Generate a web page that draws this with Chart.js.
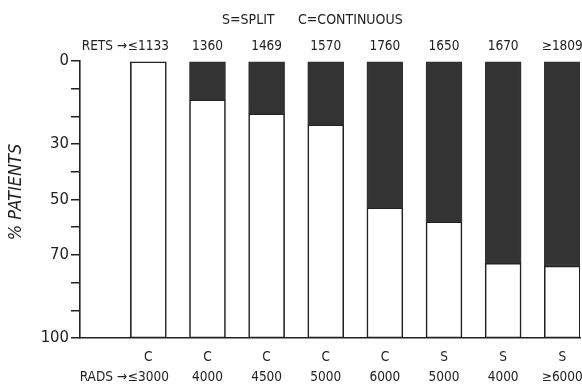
<!DOCTYPE html>
<html>
<head>
<meta charset="utf-8">
<script src="https://cdn.jsdelivr.net/npm/chart.js@4/dist/chart.umd.min.js"></script>
<style>
  html, body { margin: 0; padding: 0; background: #ffffff; }
  #wrap { width: 582px; height: 387px; position: relative; }
</style>
</head>
<body>
<div id="wrap"><canvas id="c"></canvas></div>
<script>
// ---- data ----
const schedules = ['C', 'C', 'C', 'C', 'C', 'S', 'S', 'S'];
const rads = ['≤3000', '4000', '4500', '5000', '6000', '5000', '4000', '≥6000'];
const rets = ['≤1133', '1360', '1469', '1570', '1760', '1650', '1670', '≥1809'];
const blackPct = [0, 14, 19, 23, 53, 58, 73, 74];   // dark (upper) part of each bar, % patients
const barPos = [1, 2, 3, 4, 5, 6, 7, 8];
const yTickLabels = [0, 30, 50, 70, 100];

const FONT = '"Liberation Sans Narrow", "DejaVu Sans Condensed", "Arial Narrow", sans-serif';
const INK = '#222222';
const DARK = '#333333';

const darkData = barPos.map((x, i) => ({ x: x, y: [0, blackPct[i]] }));
const whiteData = barPos.map((x, i) => ({ x: x, y: [blackPct[i], 100] }));

const annot = {
  id: 'annot',
  afterDraw(chart) {
    const ctx = chart.ctx;
    ctx.save();
    ctx.fillStyle = INK;
    ctx.textBaseline = 'middle';
    ctx.textAlign = 'left';
    ctx.font = '14px ' + FONT;
    ctx.fillText('S=SPLIT', 222, 20);
    ctx.fillText('C=CONTINUOUS', 298, 20);
    ctx.textAlign = 'right';
    ctx.font = '13.5px ' + FONT;
    ctx.fillText('RETS →', 127, 46);
    ctx.fillText('RADS →', 127, 377);
    // y-axis title
    ctx.translate(16, 192);
    ctx.rotate(-Math.PI / 2);
    ctx.textAlign = 'center';
    ctx.font = 'italic 18px ' + FONT;
    ctx.fillText('% PATIENTS', 0, 0);
    ctx.restore();
  }
};

const noPad = s => { s.paddingLeft = 0; s.paddingRight = 0; };

new Chart(document.getElementById('c'), {
  type: 'bar',
  data: {
    datasets: [
      {
        label: 'dark',
        data: darkData,
        backgroundColor: DARK,
        borderColor: DARK,
        borderWidth: 1.5,
        borderSkipped: false,
        barThickness: 36,
        grouped: false
      },
      {
        label: 'white',
        data: whiteData,
        backgroundColor: '#ffffff',
        borderColor: INK,
        borderWidth: 1.6,
        borderSkipped: false,
        barThickness: 36,
        grouped: false
      }
    ]
  },
  options: {
    responsive: true,
    maintainAspectRatio: false,
    animation: false,
    layout: { padding: { left: 0, right: 2, top: 0, bottom: 0 } },
    plugins: { legend: { display: false }, tooltip: { enabled: false }, title: { display: false } },
    scales: {
      x: {
        type: 'linear',
        position: 'bottom',
        offset: false,
        min: -0.156,
        max: 8.30,
        afterBuildTicks: s => { s.ticks = barPos.map(v => ({ value: v })); },
        afterFit: s => { s.height = 49; noPad(s); },
        grid: { display: false, drawTicks: false },
        border: { display: true, color: INK, width: 1.6 },
        ticks: {
          autoSkip: false,
          maxRotation: 0,
          padding: 10,
          color: INK,
          font: { family: FONT, size: 13.5, lineHeight: 1.48 },
          callback: (v, i) => [schedules[i], rads[i]]
        }
      },
      x2: {
        type: 'linear',
        position: 'top',
        offset: false,
        min: -0.156,
        max: 8.30,
        afterBuildTicks: s => { s.ticks = barPos.map(v => ({ value: v })); },
        afterFit: s => { s.height = 61; noPad(s); },
        grid: { display: false, drawTicks: false },
        border: { display: false },
        ticks: {
          autoSkip: false,
          maxRotation: 0,
          padding: 6,
          color: INK,
          font: { family: FONT, size: 13.5 },
          callback: (v, i) => rets[i]
        }
      },
      y: {
        type: 'linear',
        reverse: true,
        min: 0,
        max: 100,
        afterFit: s => { s.width = 80; },
        grid: { display: true, drawOnChartArea: false, drawTicks: true, tickLength: 9, color: INK, lineWidth: 1.5 },
        border: { display: true, color: INK, width: 1.6 },
        ticks: {
          stepSize: 10,
          padding: 2,
          color: INK,
          font: { family: FONT, size: 16.5 },
          callback: v => (yTickLabels.includes(v) ? String(v) : '')
        }
      }
    }
  },
  plugins: [annot]
});
</script>
</body>
</html>
